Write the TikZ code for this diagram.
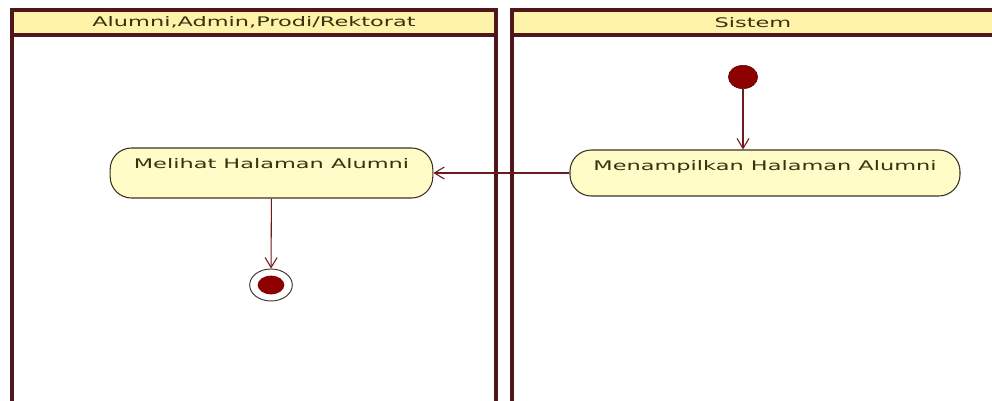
\documentclass[tikz,border=0pt]{standalone}
\usepackage{fontspec}
\newfontfamily\umlfont[FakeStretch=1.7]{DejaVu Sans}
\usetikzlibrary{arrows.meta}
\usetikzlibrary{shapes.geometric}
\definecolor{lanered}{RGB}{80,22,28}
\definecolor{headfill}{RGB}{255,243,170}
\definecolor{actfill}{RGB}{255,252,200}
\definecolor{actline}{RGB}{60,50,35}
\definecolor{flowred}{RGB}{110,25,30}
\definecolor{dotred}{RGB}{140,0,0}
\definecolor{textolive}{RGB}{55,50,15}

\begin{document}
\begin{tikzpicture}[x=0.75pt,y=0.75pt,yscale=-1,xscale=1,
  lane/.style={draw=lanered, line width=2.8pt},
  laneheader/.style={lane, fill=headfill, minimum height=18.75pt, inner sep=0pt, font=\umlfont\fontsize{9.9pt}{11pt}\selectfont, text=textolive},
  action/.style={draw=actline, line width=0.8pt, fill=actfill, rounded corners=16pt, inner xsep=0pt, inner ysep=3pt, text height=12pt, font=\umlfont\fontsize{9.9pt}{11pt}\selectfont, text=textolive},
  startdot/.style={ellipse, fill=dotred, draw=dotred!70!black, minimum width=22pt, minimum height=17.5pt, inner sep=0pt},
  endring/.style={ellipse, fill=white, draw=actline, line width=0.7pt, minimum width=32pt, minimum height=24pt, inner sep=0pt},
  enddot/.style={ellipse, fill=dotred, minimum width=20pt, minimum height=14pt, inner sep=0pt},
  flow/.style={draw=flowred, line width=0.8pt, -{Straight Barb[length=7.5pt,width=9pt]}}]
\useasboundingbox (0,0) rectangle (992,400);
\fill[white] (0,0) rectangle (992,400);
\clip (0,0) rectangle (992,400);

% Swimlane
\draw[lane] (12,22) -- (12,410);
\draw[lane] (496,22) -- (496,410);
\node[laneheader, minimum width=363pt] (userlane) at (254,22.5) {Alumni,Admin,Prodi/Rektorat};
% Swimlane
\draw[lane] (512,22) -- (512,410);
\node[laneheader, minimum width=361.5pt] (systemlane) at (753,22.5) {Sistem};

% Start Node
\node[startdot] (start) at (743,77) {};
% Text Node
\node[action, minimum width=292.5pt, minimum height=34.5pt, text depth=16.5pt] (showpage) at (765,173) {Menampilkan Halaman Alumni};
% Text Node
\node[action, minimum width=242pt, minimum height=37.5pt, text depth=19.5pt] (viewpage) at (271.5,173) {Melihat Halaman Alumni};
% End Node
\node[endring] (stop) at (271,285) {};
\node[enddot] (stopdot) at (stop) {};

% Connection
\draw[flow] (start) -- (start |- showpage.north);
% Connection
\draw[flow] (showpage.west) -- (showpage.west -| viewpage.east);
% Connection
\draw[flow] (viewpage) -- (stop);

\end{tikzpicture}
\end{document}
